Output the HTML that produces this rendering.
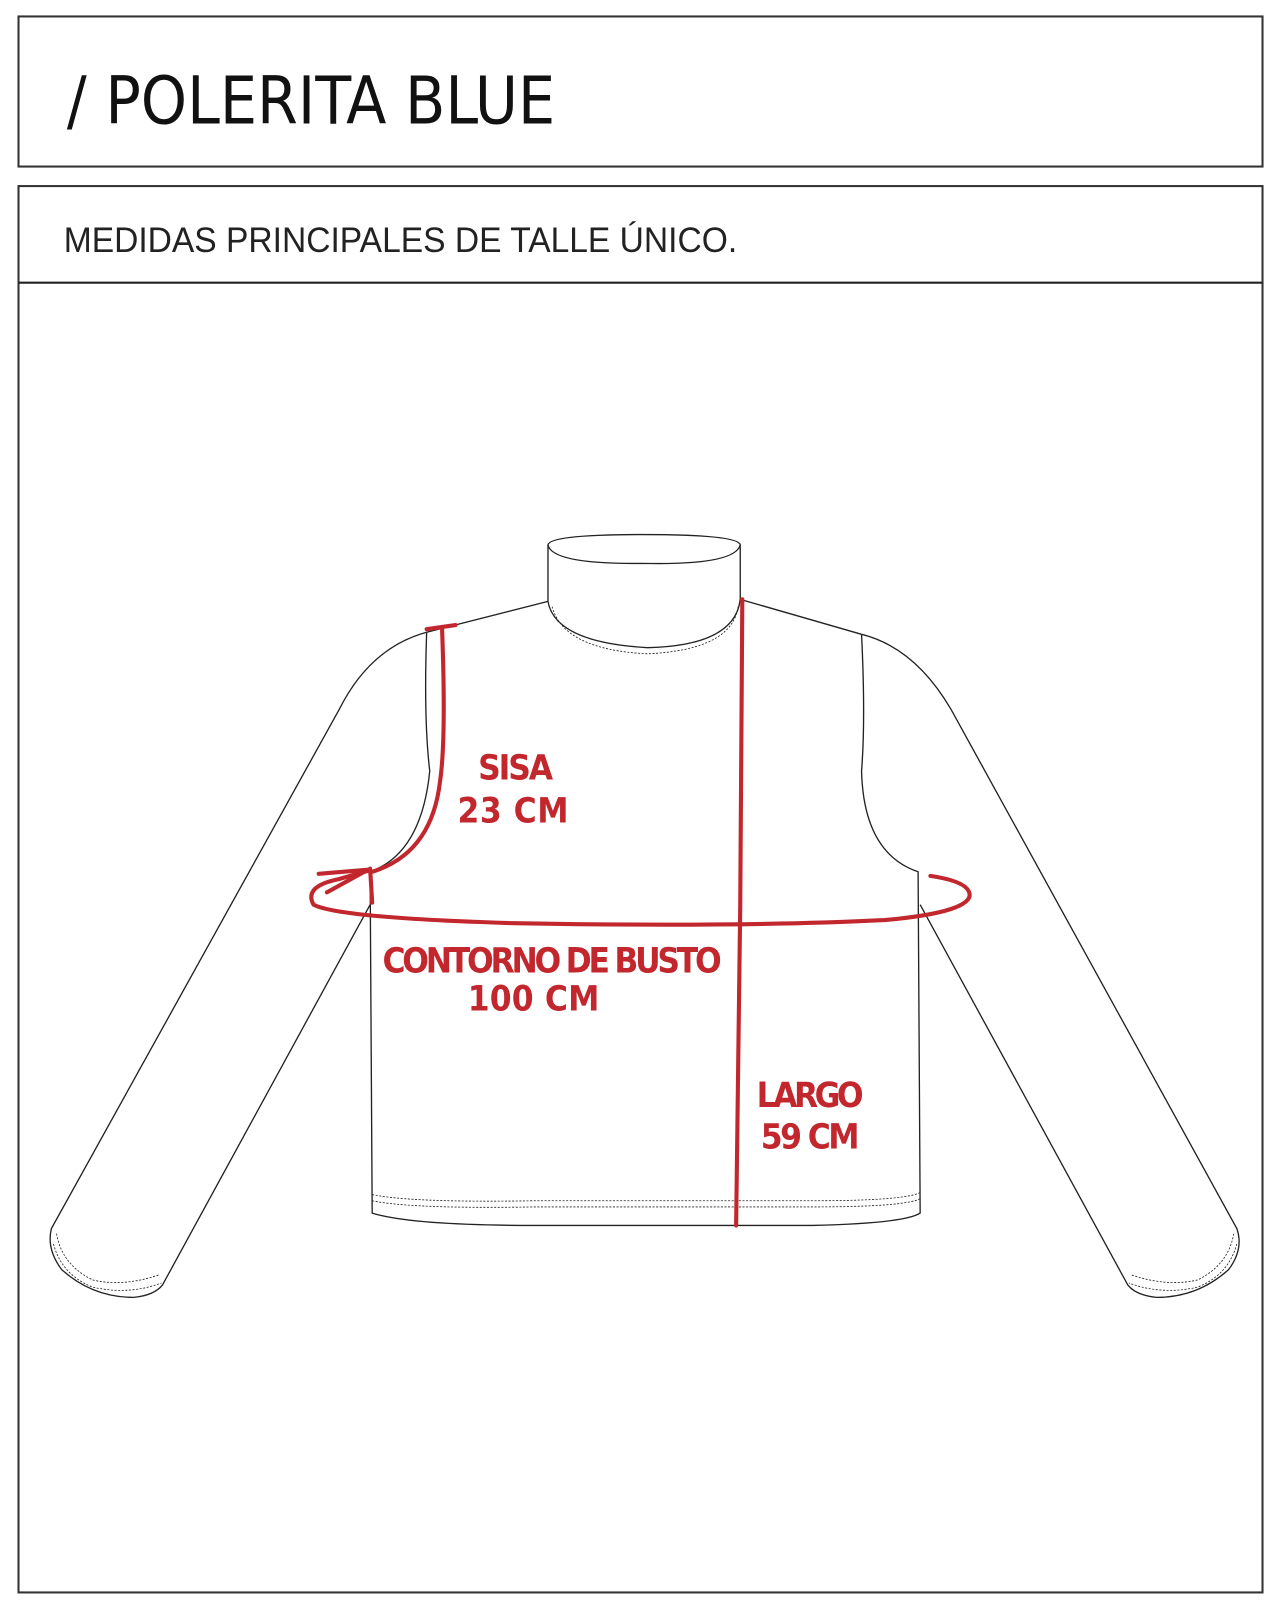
<!DOCTYPE html>
<html><head><meta charset="utf-8"><style>
html,body{margin:0;padding:0;background:#fff;}
svg{display:block}
</style></head><body>
<svg width="1280" height="1613" viewBox="0 0 1245 1569" preserveAspectRatio="none" xmlns="http://www.w3.org/2000/svg">
<rect x="0" y="0" width="1245" height="1569" fill="#fff"/>
<rect x="18" y="16" width="1210" height="146" fill="none" stroke="#333" stroke-width="2"/>
<text x="65" y="120" font-family="'DejaVu Sans Condensed','Liberation Sans',sans-serif" font-size="64" fill="#111" textLength="475" lengthAdjust="spacingAndGlyphs">/ POLERITA  BLUE</text>
<rect x="18" y="181" width="1210" height="1368" fill="none" stroke="#333" stroke-width="2"/>
<line x1="18" y1="275" x2="1228" y2="275" stroke="#222" stroke-width="2"/>
<text x="62" y="245" font-family="'Liberation Sans',sans-serif" font-size="34" fill="#222" textLength="655" lengthAdjust="spacingAndGlyphs">MEDIDAS  PRINCIPALES  DE  TALLE  ÚNICO.</text>

<g fill="none" stroke="#222" stroke-width="1.3">
<path d="M533,530 Q535,520 625,520 Q718,520 720,530 Q715,550 625,548 Q537,549 533,530 Z"/>
<path d="M533,530 L533,585 M720,530 L720,583"/>
<path d="M533,585 Q540,625 630,630 Q715,628 720,583" />
<path d="M537,590 Q548,632 630,636 Q712,632 718,590" stroke-dasharray="2 1.5" stroke-width="0.8"/>
<path d="M533,585 L415,615 M720,583 L838,617"/>
<path d="M415,615 Q360,630 330,690 L50,1195 Q45,1215 60,1235 Q90,1262 130,1262 Q150,1260 158,1250 L360,880"/>
<path d="M415,615 Q412,700 418,750 Q410,830 360,848 L362,1180 Q400,1192 520,1192 L790,1192 Q880,1190 895,1180 L893,848 Q840,830 838,750 Q842,700 838,617"/>
<path d="M838,617 Q890,630 925,690 L1203,1195 Q1210,1215 1195,1235 Q1165,1262 1125,1262 Q1105,1260 1097,1250 L895,880"/>
<g stroke-dasharray="2 1.5" stroke-width="0.8">
<path d="M55,1200 Q60,1230 90,1245 Q120,1252 155,1240"/>
<path d="M52,1210 Q60,1240 90,1252 Q125,1260 157,1248"/>
<path d="M1200,1200 Q1195,1230 1165,1245 Q1135,1252 1100,1240"/>
<path d="M1203,1210 Q1195,1240 1165,1252 Q1130,1260 1098,1248"/>
<path d="M362,1162 Q400,1170 520,1168 L790,1168 Q880,1168 895,1160"/>
<path d="M362,1168 Q400,1176 520,1174 L790,1174 Q880,1174 895,1166"/>
</g>
</g>

<g fill="none" stroke="#c1272d" stroke-width="4" stroke-linecap="round">
<path d="M415,612 L443,608"/>
<path d="M430,612 Q434,720 428,760 Q420,830 362,848"/>
<path d="M360,845 L362,878"/>
<path d="M905,852 Q945,858 943,872 Q938,888 860,895 Q720,902 500,898 Q330,893 305,880 Q295,862 330,855 L358,847"/>
<path d="M310,850 L358,846 L318,868"/>
<path d="M722,583 L720,880 L716,1192"/>
</g>
<g font-family="'DejaVu Sans Condensed','Liberation Sans Narrow',sans-serif" font-size="34" fill="#c1272d" font-weight="bold" lengthAdjust="spacingAndGlyphs">
<text x="465" y="758" textLength="73">SISA</text>
<text x="445" y="800" textLength="108">23 CM</text>
<text x="372" y="946" textLength="330">CONTORNO DE BUSTO</text>
<text x="455" y="983" textLength="128">100 CM</text>
<text x="736" y="1077" textLength="104">LARGO</text>
<text x="740" y="1117" textLength="96">59 CM</text>
</g>
</svg>
</body></html>
